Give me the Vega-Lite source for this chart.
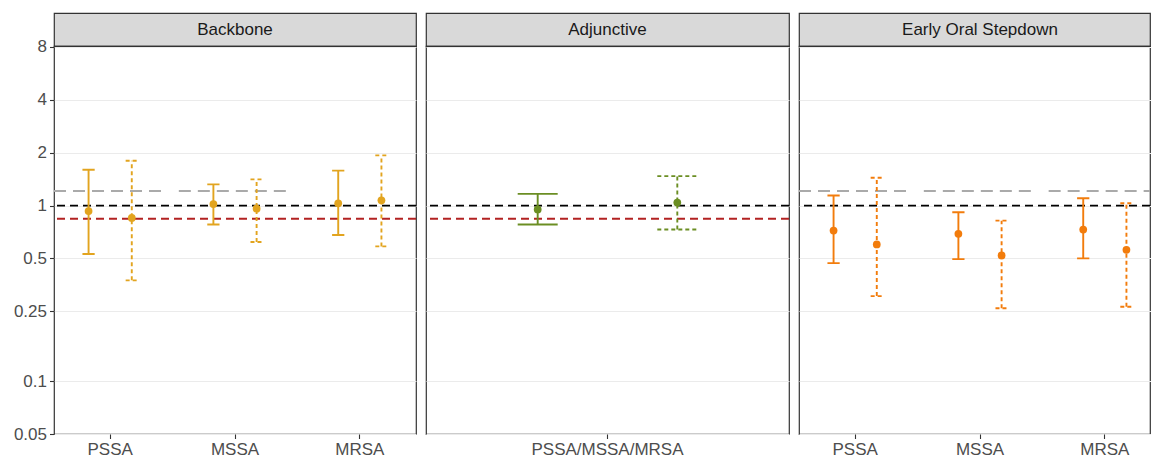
{
  "$schema": "https://vega.github.io/schema/vega-lite/v6.json",
  "padding": {"left": 0, "top": 12, "right": 0, "bottom": 0},
  "background": "white",
  "datasets": {
    "est": [
      {"panel": "Backbone", "category": "PSSA", "type": "solid", "est": 0.93, "lo": 0.53, "hi": 1.60},
      {"panel": "Backbone", "category": "PSSA", "type": "dotted", "est": 0.85, "lo": 0.375, "hi": 1.80},
      {"panel": "Backbone", "category": "MSSA", "type": "solid", "est": 1.02, "lo": 0.78, "hi": 1.32},
      {"panel": "Backbone", "category": "MSSA", "type": "dotted", "est": 0.96, "lo": 0.62, "hi": 1.41},
      {"panel": "Backbone", "category": "MRSA", "type": "solid", "est": 1.03, "lo": 0.68, "hi": 1.58},
      {"panel": "Backbone", "category": "MRSA", "type": "dotted", "est": 1.07, "lo": 0.585, "hi": 1.93},
      {"panel": "Adjunctive", "category": "PSSA/MSSA/MRSA", "type": "solid", "est": 0.95, "lo": 0.78, "hi": 1.165},
      {"panel": "Adjunctive", "category": "PSSA/MSSA/MRSA", "type": "dotted", "est": 1.04, "lo": 0.73, "hi": 1.47},
      {"panel": "Early Oral Stepdown", "category": "PSSA", "type": "solid", "est": 0.72, "lo": 0.47, "hi": 1.14},
      {"panel": "Early Oral Stepdown", "category": "PSSA", "type": "dotted", "est": 0.60, "lo": 0.305, "hi": 1.44},
      {"panel": "Early Oral Stepdown", "category": "MSSA", "type": "solid", "est": 0.69, "lo": 0.495, "hi": 0.915},
      {"panel": "Early Oral Stepdown", "category": "MSSA", "type": "dotted", "est": 0.52, "lo": 0.26, "hi": 0.82},
      {"panel": "Early Oral Stepdown", "category": "MRSA", "type": "solid", "est": 0.73, "lo": 0.50, "hi": 1.10},
      {"panel": "Early Oral Stepdown", "category": "MRSA", "type": "dotted", "est": 0.56, "lo": 0.265, "hi": 1.03}
    ],
    "refs": [
      {"panel": "Backbone", "kind": "null", "category": null, "value": 1},
      {"panel": "Adjunctive", "kind": "null", "category": null, "value": 1},
      {"panel": "Early Oral Stepdown", "kind": "null", "category": null, "value": 1},
      {"panel": "Backbone", "kind": "pooled", "category": null, "value": 0.84},
      {"panel": "Adjunctive", "kind": "pooled", "category": null, "value": 0.84},
      {"panel": "Backbone", "kind": "prior", "category": "PSSA", "value": 1.21},
      {"panel": "Backbone", "kind": "prior", "category": "MSSA", "value": 1.21},
      {"panel": "Early Oral Stepdown", "kind": "prior", "category": "PSSA", "value": 1.21},
      {"panel": "Early Oral Stepdown", "kind": "prior", "category": "MSSA", "value": 1.21},
      {"panel": "Early Oral Stepdown", "kind": "prior", "category": "MRSA", "value": 1.21}
    ]
  },
  "spacing": 6,
  "resolve": {"scale": {"x": "independent", "xOffset": "independent"}},
  "hconcat": [
    {
      "spacing": 0,
      "bounds": "flush",
      "vconcat": [
        {
          "width": 362, "height": 33,
          "view": {"fill": "#d9d9d9", "stroke": "#333333", "strokeWidth": 1.2},
          "data": {"values": [{"label": "Backbone"}]},
          "mark": {"type": "text", "fontSize": 17, "color": "#1a1a1a"},
          "encoding": {"text": {"field": "label", "type": "nominal"}}
        },
        {
          "width": 362, "height": 388,
          "layer": [
            {
              "data": {"name": "refs"},
              "transform": [{"filter": "datum.panel === 'Backbone' && datum.kind === 'prior'"}],
              "mark": {"type": "rule", "color": "#aaaaaa", "strokeWidth": 2, "strokeDash": [12, 7]},
              "encoding": {
                "x": {"field": "category", "type": "nominal", "bandPosition": 0, "scale": {"type": "band", "domain": ["PSSA", "MSSA", "MRSA"], "paddingInner": 0.1, "paddingOuter": 0}, "axis": {"title": null}},
                "x2": {"field": "category", "bandPosition": 1},
                "y": {"field": "value", "type": "quantitative", "title": null, "scale": {"type": "log", "domain": [0.05, 8.1], "nice": false}, "axis": {"title": null, "values": [0.05, 0.1, 0.25, 0.5, 1, 2, 4, 8], "format": "~g", "minExtent": 53, "maxExtent": 53}}
              }
            },
            {
              "data": {"name": "refs"},
              "transform": [{"filter": "datum.panel === 'Backbone' && datum.kind === 'null'"}],
              "mark": {"type": "rule", "color": "#000000", "strokeWidth": 1.7, "strokeDash": [8, 5]},
              "encoding": {"y": {"field": "value", "type": "quantitative", "title": null}}
            },
            {
              "data": {"name": "refs"},
              "transform": [{"filter": "datum.panel === 'Backbone' && datum.kind === 'pooled'"}],
              "mark": {"type": "rule", "color": "#b22222", "strokeWidth": 2, "strokeDash": [8, 5]},
              "encoding": {"y": {"field": "value", "type": "quantitative", "title": null}}
            },
            {
              "data": {"name": "est"},
              "transform": [{"filter": "datum.panel === 'Backbone'"}],
              "mark": {"type": "rule", "strokeWidth": 1.9},
              "encoding": {
                "x": {"field": "category", "type": "nominal"},
                "xOffset": {"field": "type", "type": "nominal", "scale": {"type": "point", "domain": ["solid", "dotted"], "padding": 0.8}},
                "y": {"field": "lo", "type": "quantitative", "title": null},
                "y2": {"field": "hi"},
                "color": {"field": "panel", "type": "nominal", "scale": {"domain": ["Backbone", "Adjunctive", "Early Oral Stepdown"], "range": ["#E2A41F", "#6B8E23", "#F27C0C"]}, "legend": null},
                "strokeDash": {"field": "type", "type": "nominal", "scale": {"domain": ["solid", "dotted"], "range": [[1, 0], [4, 3]]}, "legend": null}
              }
            },
            {
              "data": {"name": "est"},
              "transform": [{"filter": "datum.panel === 'Backbone'"}],
              "mark": {"type": "point", "shape": "M-1,0L1,0", "size": 150, "filled": false, "strokeWidth": 1.9, "opacity": 1},
              "encoding": {
                "x": {"field": "category", "type": "nominal"},
                "xOffset": {"field": "type", "type": "nominal"},
                "y": {"field": "lo", "type": "quantitative", "title": null},
                "color": {"field": "panel", "type": "nominal", "legend": null},
                "strokeDash": {"field": "type", "type": "nominal", "legend": null}
              }
            },
            {
              "data": {"name": "est"},
              "transform": [{"filter": "datum.panel === 'Backbone'"}],
              "mark": {"type": "point", "shape": "M-1,0L1,0", "size": 150, "filled": false, "strokeWidth": 1.9, "opacity": 1},
              "encoding": {
                "x": {"field": "category", "type": "nominal"},
                "xOffset": {"field": "type", "type": "nominal"},
                "y": {"field": "hi", "type": "quantitative", "title": null},
                "color": {"field": "panel", "type": "nominal", "legend": null},
                "strokeDash": {"field": "type", "type": "nominal", "legend": null}
              }
            },
            {
              "data": {"name": "est"},
              "transform": [{"filter": "datum.panel === 'Backbone'"}],
              "mark": {"type": "point", "filled": true, "size": 60, "opacity": 1},
              "encoding": {
                "x": {"field": "category", "type": "nominal"},
                "xOffset": {"field": "type", "type": "nominal"},
                "y": {"field": "est", "type": "quantitative", "title": null},
                "color": {"field": "panel", "type": "nominal", "legend": null}
              }
            }
          ]
        }
      ]
    },
    {
      "spacing": 0,
      "bounds": "flush",
      "vconcat": [
        {
          "width": 363, "height": 33,
          "view": {"fill": "#d9d9d9", "stroke": "#333333", "strokeWidth": 1.2},
          "data": {"values": [{"label": "Adjunctive"}]},
          "mark": {"type": "text", "fontSize": 17, "color": "#1a1a1a"},
          "encoding": {"text": {"field": "label", "type": "nominal"}}
        },
        {
          "width": 363, "height": 388,
          "layer": [
            {
              "data": {"name": "refs"},
              "transform": [{"filter": "datum.panel === 'Adjunctive' && datum.kind === 'null'"}],
              "mark": {"type": "rule", "color": "#000000", "strokeWidth": 1.7, "strokeDash": [8, 5]},
              "encoding": {"y": {"field": "value", "type": "quantitative", "title": null, "scale": {"type": "log", "domain": [0.05, 8.1], "nice": false}, "axis": {"title": null, "values": [0.05, 0.1, 0.25, 0.5, 1, 2, 4, 8], "labels": false, "ticks": false, "domain": false, "minExtent": 0, "maxExtent": 0}}}
            },
            {
              "data": {"name": "refs"},
              "transform": [{"filter": "datum.panel === 'Adjunctive' && datum.kind === 'pooled'"}],
              "mark": {"type": "rule", "color": "#b22222", "strokeWidth": 2, "strokeDash": [8, 5]},
              "encoding": {"y": {"field": "value", "type": "quantitative", "title": null}}
            },
            {
              "data": {"name": "est"},
              "transform": [{"filter": "datum.panel === 'Adjunctive'"}],
              "mark": {"type": "rule", "strokeWidth": 1.9},
              "encoding": {
                "x": {"field": "category", "type": "nominal", "scale": {"type": "band", "domain": ["PSSA/MSSA/MRSA"], "paddingInner": 0.1, "paddingOuter": 0}, "axis": {"title": null}},
                "xOffset": {"field": "type", "type": "nominal", "scale": {"type": "point", "domain": ["solid", "dotted"], "padding": 0.8}},
                "y": {"field": "lo", "type": "quantitative", "title": null},
                "y2": {"field": "hi"},
                "color": {"field": "panel", "type": "nominal", "legend": null},
                "strokeDash": {"field": "type", "type": "nominal", "scale": {"domain": ["solid", "dotted"], "range": [[1, 0], [4, 3]]}, "legend": null}
              }
            },
            {
              "data": {"name": "est"},
              "transform": [{"filter": "datum.panel === 'Adjunctive'"}],
              "mark": {"type": "point", "shape": "M-1,0L1,0", "size": 1600, "filled": false, "strokeWidth": 1.9, "opacity": 1},
              "encoding": {
                "x": {"field": "category", "type": "nominal"},
                "xOffset": {"field": "type", "type": "nominal"},
                "y": {"field": "lo", "type": "quantitative", "title": null},
                "color": {"field": "panel", "type": "nominal", "legend": null},
                "strokeDash": {"field": "type", "type": "nominal", "legend": null}
              }
            },
            {
              "data": {"name": "est"},
              "transform": [{"filter": "datum.panel === 'Adjunctive'"}],
              "mark": {"type": "point", "shape": "M-1,0L1,0", "size": 1600, "filled": false, "strokeWidth": 1.9, "opacity": 1},
              "encoding": {
                "x": {"field": "category", "type": "nominal"},
                "xOffset": {"field": "type", "type": "nominal"},
                "y": {"field": "hi", "type": "quantitative", "title": null},
                "color": {"field": "panel", "type": "nominal", "legend": null},
                "strokeDash": {"field": "type", "type": "nominal", "legend": null}
              }
            },
            {
              "data": {"name": "est"},
              "transform": [{"filter": "datum.panel === 'Adjunctive'"}],
              "mark": {"type": "point", "filled": true, "size": 60, "opacity": 1},
              "encoding": {
                "x": {"field": "category", "type": "nominal"},
                "xOffset": {"field": "type", "type": "nominal"},
                "y": {"field": "est", "type": "quantitative", "title": null},
                "color": {"field": "panel", "type": "nominal", "legend": null}
              }
            }
          ]
        }
      ]
    },
    {
      "spacing": 0,
      "bounds": "flush",
      "vconcat": [
        {
          "width": 351, "height": 33,
          "view": {"fill": "#d9d9d9", "stroke": "#333333", "strokeWidth": 1.2},
          "data": {"values": [{"label": "Early Oral Stepdown"}]},
          "mark": {"type": "text", "fontSize": 17, "color": "#1a1a1a", "dx": 5.5},
          "encoding": {"text": {"field": "label", "type": "nominal"}}
        },
        {
          "width": 351, "height": 388,
          "layer": [
            {
              "data": {"name": "refs"},
              "transform": [{"filter": "datum.panel === 'Early Oral Stepdown' && datum.kind === 'prior'"}],
              "mark": {"type": "rule", "color": "#aaaaaa", "strokeWidth": 2, "strokeDash": [12, 7], "clip": true},
              "encoding": {
                "x": {"field": "category", "type": "nominal", "bandPosition": 0, "scale": {"type": "band", "domain": ["PSSA", "MSSA", "MRSA"], "paddingInner": 0.1, "paddingOuter": 0, "rangeMax": 362}, "axis": {"title": null}},
                "x2": {"field": "category", "bandPosition": 1},
                "y": {"field": "value", "type": "quantitative", "title": null, "scale": {"type": "log", "domain": [0.05, 8.1], "nice": false}, "axis": {"title": null, "values": [0.05, 0.1, 0.25, 0.5, 1, 2, 4, 8], "labels": false, "ticks": false, "domain": false, "minExtent": 0, "maxExtent": 0}}
              }
            },
            {
              "data": {"name": "refs"},
              "transform": [{"filter": "datum.panel === 'Early Oral Stepdown' && datum.kind === 'null'"}],
              "mark": {"type": "rule", "color": "#000000", "strokeWidth": 1.7, "strokeDash": [8, 5]},
              "encoding": {"y": {"field": "value", "type": "quantitative", "title": null}}
            },
            {
              "data": {"name": "est"},
              "transform": [{"filter": "datum.panel === 'Early Oral Stepdown'"}],
              "mark": {"type": "rule", "strokeWidth": 1.9},
              "encoding": {
                "x": {"field": "category", "type": "nominal"},
                "xOffset": {"field": "type", "type": "nominal", "scale": {"type": "point", "domain": ["solid", "dotted"], "padding": 0.8}},
                "y": {"field": "lo", "type": "quantitative", "title": null},
                "y2": {"field": "hi"},
                "color": {"field": "panel", "type": "nominal", "legend": null},
                "strokeDash": {"field": "type", "type": "nominal", "scale": {"domain": ["solid", "dotted"], "range": [[1, 0], [4, 3]]}, "legend": null}
              }
            },
            {
              "data": {"name": "est"},
              "transform": [{"filter": "datum.panel === 'Early Oral Stepdown'"}],
              "mark": {"type": "point", "shape": "M-1,0L1,0", "size": 150, "filled": false, "strokeWidth": 1.9, "opacity": 1},
              "encoding": {
                "x": {"field": "category", "type": "nominal"},
                "xOffset": {"field": "type", "type": "nominal"},
                "y": {"field": "lo", "type": "quantitative", "title": null},
                "color": {"field": "panel", "type": "nominal", "legend": null},
                "strokeDash": {"field": "type", "type": "nominal", "legend": null}
              }
            },
            {
              "data": {"name": "est"},
              "transform": [{"filter": "datum.panel === 'Early Oral Stepdown'"}],
              "mark": {"type": "point", "shape": "M-1,0L1,0", "size": 150, "filled": false, "strokeWidth": 1.9, "opacity": 1},
              "encoding": {
                "x": {"field": "category", "type": "nominal"},
                "xOffset": {"field": "type", "type": "nominal"},
                "y": {"field": "hi", "type": "quantitative", "title": null},
                "color": {"field": "panel", "type": "nominal", "legend": null},
                "strokeDash": {"field": "type", "type": "nominal", "legend": null}
              }
            },
            {
              "data": {"name": "est"},
              "transform": [{"filter": "datum.panel === 'Early Oral Stepdown'"}],
              "mark": {"type": "point", "filled": true, "size": 60, "opacity": 1},
              "encoding": {
                "x": {"field": "category", "type": "nominal"},
                "xOffset": {"field": "type", "type": "nominal"},
                "y": {"field": "est", "type": "quantitative", "title": null},
                "color": {"field": "panel", "type": "nominal", "legend": null}
              }
            }
          ]
        }
      ]
    }
  ],
  "config": {
    "font": "Liberation Sans",
    "view": {"stroke": "#333333", "strokeWidth": 1.2},
    "axis": {
      "labelFont": "Liberation Sans",
      "labelFontSize": 17,
      "labelColor": "#4d4d4d",
      "tickColor": "#333333",
      "tickSize": 4.5,
      "tickWidth": 1.1,
      "labelPadding": 3,
      "domain": false,
      "gridColor": "#ebebeb",
      "gridWidth": 1.1
    },
    "axisX": {"grid": false, "labelAngle": 0},
    "axisY": {"grid": true}
  }
}
